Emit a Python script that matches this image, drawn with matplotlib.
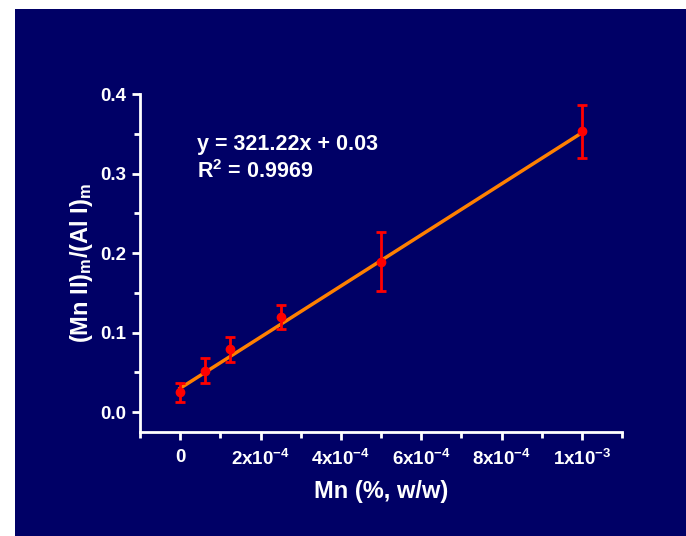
import matplotlib
matplotlib.use("Agg")
import matplotlib.pyplot as plt
import numpy as np
from matplotlib.patches import Rectangle
from matplotlib.ticker import MultipleLocator, FixedLocator

plt.rcParams['font.family'] = ['Liberation Sans', 'DejaVu Sans']
plt.rcParams['font.weight'] = 'bold'
plt.rcParams['mathtext.fontset'] = 'custom'
plt.rcParams['mathtext.rm'] = 'Liberation Sans:bold'
plt.rcParams['mathtext.bf'] = 'Liberation Sans:bold'
plt.rcParams['mathtext.it'] = 'Liberation Sans:bold'
plt.rcParams['mathtext.sf'] = 'Liberation Sans:bold'

# data
mn_conc = [0.0, 0.625e-4, 1.25e-4, 2.5e-4, 5e-4, 1e-3]
ratio = [0.025, 0.052, 0.079, 0.120, 0.189, 0.353]
ratio_err = [0.012, 0.016, 0.016, 0.015, 0.037, 0.033]
slope, intercept = 321.22, 0.03
x_ticks = [0, 2e-4, 4e-4, 6e-4, 8e-4, 1e-3]
x_ticklabels = ['0', '2x10$^{-4}$', '4x10$^{-4}$', '6x10$^{-4}$', '8x10$^{-4}$', '1x10$^{-3}$']
y_ticks = [0.0, 0.1, 0.2, 0.3, 0.4]
y_ticklabels = ['0.0', '0.1', '0.2', '0.3', '0.4']

navy = '#000066'
fig = plt.figure(figsize=(6.86, 5.36), dpi=100)
fig.patches.append(Rectangle((15/686, 0), 1 - 15/686, 1 - 9/536, transform=fig.transFigure,
                             facecolor=navy, edgecolor='none', zorder=-10))
ax = fig.add_axes([140/686, (536-432)/536, (622-140)/686, (432-94)/536])
ax.set_facecolor('none')
ax.patch.set_alpha(0)

xf = np.array([0.0, 1e-3])
ax.plot(xf, slope * xf + intercept, color='#FF8000', lw=2.5, zorder=3)
ax.errorbar(mn_conc, ratio, yerr=ratio_err, fmt='o', color='#FF0000', ms=6,
            ecolor='#FF0000', elinewidth=2, capsize=3.5, capthick=2, zorder=4)

ax.set_xlim(-1e-4, 1.1e-3)
ax.set_ylim(-0.025, 0.4)
ax.xaxis.set_major_locator(FixedLocator(x_ticks))
ax.set_xticklabels(x_ticklabels)
ax.xaxis.set_minor_locator(MultipleLocator(1e-4))
ax.yaxis.set_major_locator(FixedLocator(y_ticks))
ax.set_yticklabels(y_ticklabels)
ax.yaxis.set_minor_locator(MultipleLocator(0.05))

for s in ['top', 'right']:
    ax.spines[s].set_visible(False)
for s in ['left', 'bottom']:
    ax.spines[s].set_color('white')
    ax.spines[s].set_linewidth(2)
ax.tick_params(which='major', direction='out', length=6, width=2, color='white',
               labelcolor='white', labelsize=13.5, pad=4)
ax.tick_params(axis='x', which='major', pad=6)
ax.tick_params(which='minor', direction='out', length=4, width=2, color='white')
for lab in ax.get_xticklabels() + ax.get_yticklabels():
    lab.set_fontweight('bold')

ax.set_xlabel('Mn (%, w/w)', color='white', fontsize=17, fontweight='bold', labelpad=8)
ax.set_ylabel('(Mn II)$_{m}$/(Al I)$_{m}$', color='white', fontsize=17, fontweight='bold', labelpad=4)

ax.text(0.42e-4, 0.336, 'y = 321.22x + 0.03', color='white', fontsize=15.5,
        fontweight='bold', va='center', ha='left')
ax.text(0.42e-4, 0.302, 'R$^{2}$ = 0.9969', color='white', fontsize=15.5,
        fontweight='bold', va='center', ha='left')

fig.savefig('out.png', dpi=100)
